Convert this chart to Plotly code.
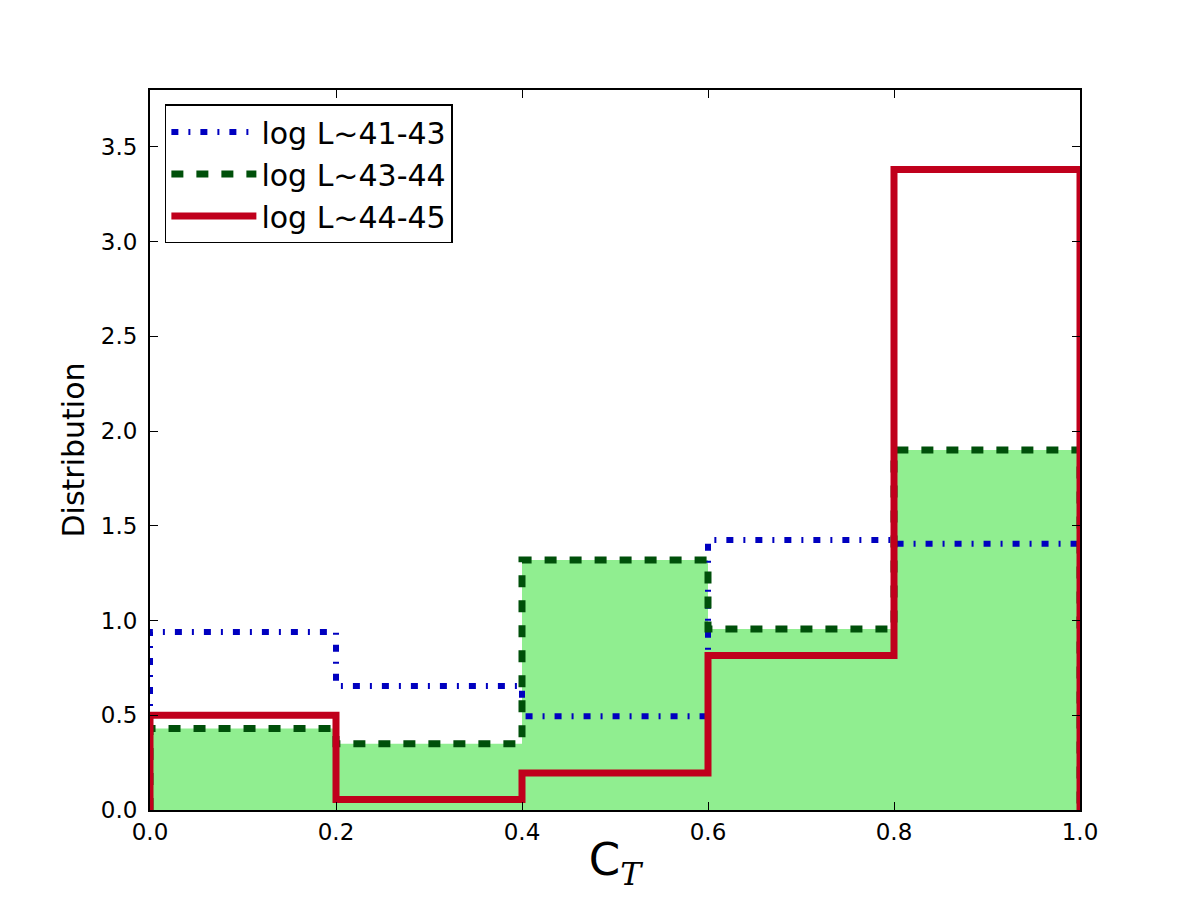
import plotly.graph_objects as go

# ---- data ----
bin_edges = [0.0, 0.2, 0.4, 0.6, 0.8, 1.0]
series_names = ["log L~41-43", "log L~43-44", "log L~44-45"]
dist_41_43 = [0.94, 0.655, 0.495, 1.425, 1.405]
dist_43_44 = [0.43, 0.35, 1.32, 0.955, 1.90]
dist_44_45 = [0.50, 0.055, 0.195, 0.815, 3.38]
x_ticks = [0.0, 0.2, 0.4, 0.6, 0.8, 1.0]
y_ticks = [0.0, 0.5, 1.0, 1.5, 2.0, 2.5, 3.0, 3.5]


def step_xy(edges, vals):
    xs = [edges[0]]
    ys = [0]
    for i, v in enumerate(vals):
        xs += [edges[i], edges[i + 1]]
        ys += [v, v]
    xs.append(edges[-1])
    ys.append(0)
    return xs, ys


fig = go.Figure()

# green filled histogram
fx, fy = step_xy(bin_edges, dist_43_44)
fig.add_trace(go.Scatter(x=fx, y=fy, mode="lines", fill="toself",
                         fillcolor="#90EE90", line=dict(width=0),
                         showlegend=False, hoverinfo="skip"))

bx, by = step_xy(bin_edges, dist_41_43)
fig.add_trace(go.Scatter(x=bx, y=by, mode="lines", name=series_names[0],
                         legendgroup="a",
                         line=dict(color="#0000c0", width=6,
                                   dash="7px,10px,2px,10px")))

gx, gy = step_xy(bin_edges, dist_43_44)
fig.add_trace(go.Scatter(x=gx, y=gy, mode="lines", name=series_names[1],
                         legendgroup="b",
                         line=dict(color="#00500a", width=7, dash="12px,13px")))

rx, ry = step_xy(bin_edges, dist_44_45)
fig.add_trace(go.Scatter(x=rx, y=ry, mode="lines", name=series_names[2],
                         legendgroup="c",
                         line=dict(color="#c0001c", width=7)))

axis_common = dict(showline=True, linecolor="black", linewidth=2, mirror="ticks",
                   ticks="inside", ticklen=8, tickwidth=1, tickcolor="black",
                   showgrid=False, zeroline=False,
                   tickfont=dict(family="DejaVu Sans", size=23, color="black"))

fig.update_xaxes(range=[0, 1], tickvals=x_ticks, tickformat=".1f",
                 ticklabelstandoff=0,
                 title=dict(text="C<sub><span style=\"font-family:DejaVu Serif;font-style:italic\">T</span></sub>",
                            font=dict(family="DejaVu Sans", size=45, color="black"),
                            standoff=0),
                 **axis_common)
fig.update_yaxes(range=[0, 3.8], tickvals=y_ticks, tickformat=".1f",
                 ticklabelstandoff=6,
                 title=dict(text="Distribution",
                            font=dict(family="DejaVu Sans", size=30, color="black"),
                            standoff=7),
                 **axis_common)

fig.update_layout(
    width=1200, height=900,
    margin=dict(l=150, r=120, t=90, b=90, autoexpand=False),
    paper_bgcolor="white", plot_bgcolor="white",
    font=dict(family="DejaVu Sans", color="black"),
    legend=dict(x=0.016, y=0.98, xanchor="left", yanchor="top",
                bgcolor="white", bordercolor="black", borderwidth=1.5,
                font=dict(family="DejaVu Sans", size=30, color="black"),
                itemwidth=85, tracegroupgap=0),
)

fig.write_html("out.html")
